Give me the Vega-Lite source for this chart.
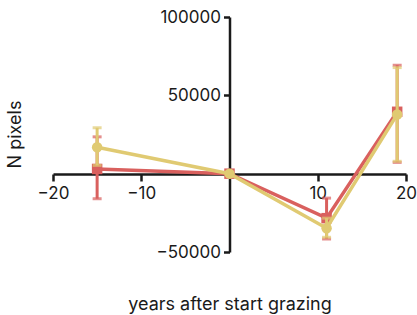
{
  "$schema": "https://vega.github.io/schema/vega-lite/v6.json",
  "width": 353,
  "height": 235,
  "autosize": "none",
  "padding": {"left": 53, "top": 17, "right": 11, "bottom": 63},
  "config": {"view": {"stroke": null}, "font": "Inter"},
  "data": {"values": [
    {"series": "A", "year": -15, "n": 3000, "lo": -16000, "hi": 23500},
    {"series": "A", "year": 0, "n": 0, "lo": 0, "hi": 0},
    {"series": "A", "year": 11, "n": -28400, "lo": -41700, "hi": -15600},
    {"series": "A", "year": 19, "n": 39500, "lo": 7200, "hi": 69200},
    {"series": "B", "year": -15, "n": 16900, "lo": 5300, "hi": 29300},
    {"series": "B", "year": 0, "n": 0, "lo": 0, "hi": 0},
    {"series": "B", "year": 11, "n": -34800, "lo": -40600, "hi": -28400},
    {"series": "B", "year": 19, "n": 37800, "lo": 7900, "hi": 67700}
  ]},
  "encoding": {
    "x": {"field": "year", "type": "quantitative",
      "scale": {"domain": [-20, 20], "nice": false, "zero": false},
      "axis": {"title": "years after start grazing", "offset": -78, "values": [-20, -10, 10, 20],
        "grid": false, "labelFlush": false, "domainColor": "#1a1a1a", "domainWidth": 2.5,
        "tickColor": "#1a1a1a", "tickWidth": 2.5, "tickSize": 7, "labelFontSize": 17,
        "labelColor": "#1a1a1a", "labelPadding": 4, "titleFontSize": 18, "titleFontWeight": "normal",
        "titleColor": "#1a1a1a", "titleY": 130, "titleBaseline": "middle"}},
    "y": {"field": "n", "type": "quantitative",
      "scale": {"domain": [-50000, 100000], "nice": false},
      "axis": {"title": "N pixels", "offset": -176.5, "values": [-50000, 50000, 100000], "format": "d",
        "grid": false, "labelFlush": false, "domainColor": "#1a1a1a", "domainWidth": 2.5,
        "tickColor": "#1a1a1a", "tickWidth": 2.5, "tickSize": 6, "labelFontSize": 17,
        "labelColor": "#1a1a1a", "labelPadding": 3, "titleFontSize": 18, "titleFontWeight": "normal",
        "titleColor": "#1a1a1a", "titleX": -209, "titleY": 117, "titleBaseline": "alphabetic"}},
    "color": {"field": "series", "type": "nominal",
      "scale": {"domain": ["A", "B"], "range": ["#d9605e", "#e0ca72"]}, "legend": null}
  },
  "layer": [
    {
      "transform": [{"filter": "datum.series == 'A'"}],
      "layer": [
        {"mark": {"type": "rule", "strokeWidth": 3}, "encoding": {"y": {"field": "lo", "type": "quantitative"}, "y2": {"field": "hi"}}},
        {"mark": {"type": "tick", "orient": "horizontal", "size": 9, "thickness": 3}, "encoding": {"y": {"field": "lo", "type": "quantitative"}}},
        {"mark": {"type": "tick", "orient": "horizontal", "size": 9, "thickness": 3}, "encoding": {"y": {"field": "hi", "type": "quantitative"}}},
        {"mark": {"type": "line", "strokeWidth": 3.5}},
        {"mark": {"type": "point", "shape": "square", "filled": true, "size": 110, "opacity": 1}}
      ]
    },
    {
      "transform": [{"filter": "datum.series == 'B'"}],
      "layer": [
        {"mark": {"type": "rule", "strokeWidth": 3}, "encoding": {"y": {"field": "lo", "type": "quantitative"}, "y2": {"field": "hi"}}},
        {"mark": {"type": "tick", "orient": "horizontal", "size": 9, "thickness": 3}, "encoding": {"y": {"field": "lo", "type": "quantitative"}}},
        {"mark": {"type": "tick", "orient": "horizontal", "size": 9, "thickness": 3}, "encoding": {"y": {"field": "hi", "type": "quantitative"}}},
        {"mark": {"type": "line", "strokeWidth": 3.5}},
        {"mark": {"type": "point", "shape": "circle", "filled": true, "size": 110, "opacity": 1}}
      ]
    }
  ]
}
